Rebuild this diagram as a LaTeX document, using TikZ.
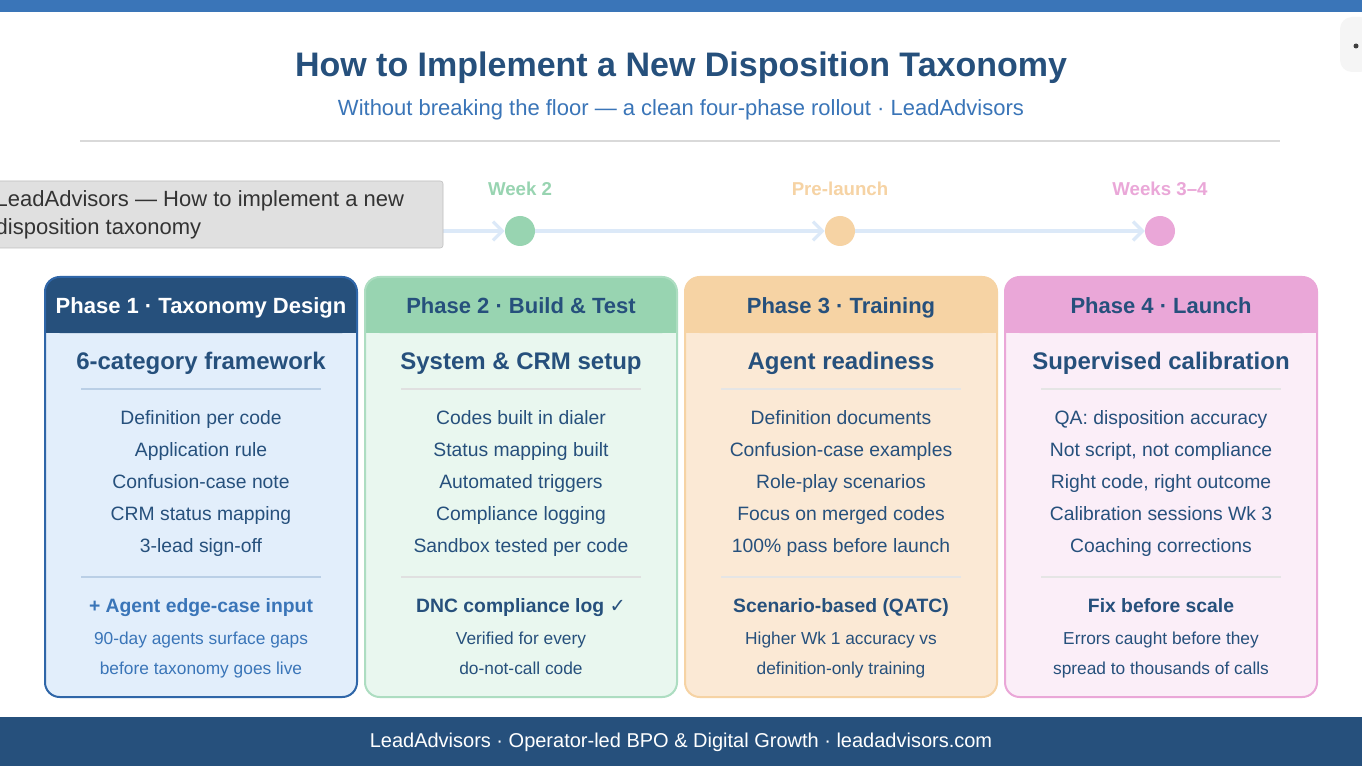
\documentclass[tikz,border=0pt]{standalone}
\usepackage{fontspec}
\setmainfont{Liberation Sans}
\newfontfamily\symfont{DejaVu Sans}
\usetikzlibrary{positioning, calc, arrows.meta}
\definecolor{navy}{HTML}{26507C}
\definecolor{midblue}{HTML}{3A75B8}
\definecolor{pblue}{HTML}{E2EEFB}
\definecolor{bblue}{HTML}{2F66A8}
\definecolor{hgreen}{HTML}{98D4B1}
\definecolor{pgreen}{HTML}{E9F7EF}
\definecolor{horange}{HTML}{F6D3A4}
\definecolor{porange}{HTML}{FBE9D5}
\definecolor{hpink}{HTML}{EAA7D8}
\definecolor{ppink}{HTML}{FBEEF8}
\definecolor{track}{HTML}{DCE9F8}
\tikzset{
  cardtext/.style={anchor=base, font=\fontsize{14.5}{17}\selectfont, text=navy},
  cardsub/.style={anchor=base, font=\fontsize{18}{21}\selectfont\bfseries, text=navy},
  cardhead/.style={anchor=base, font=\fontsize{16.5}{19}\selectfont\bfseries},
  notehead/.style={anchor=base, font=\fontsize{14.5}{17}\selectfont\bfseries, text=navy},
  smalltext/.style={anchor=base, font=\fontsize{13}{15}\selectfont, text=navy},
  weeklabel/.style={anchor=base, font=\fontsize{14}{16}\selectfont\bfseries},
  dot/.style={circle, minimum size=22.5pt, inner sep=0pt},
  divider/.style={line width=0.9pt},
}
% one phase card: x, header colour, body colour, border, rule colour
\newcommand\phasecard[5]{
  \fill[#3, rounded corners=11pt] (#1,277) rectangle ++(312,420);
  \fill[#2, rounded corners=11pt] (#1,277) rectangle ++(312,56);
  \fill[#2] (#1,300) rectangle ++(312,33);
  \draw[#4, line width=1.5pt, rounded corners=11pt] (#1,277) rectangle ++(312,420);
  \draw[#5, divider] (#1+36,389) -- ++(240,0);
  \draw[#5, divider] (#1+36,577) -- ++(240,0);
}
\begin{document}
\begin{tikzpicture}[x=0.75pt, y=-0.75pt]
\useasboundingbox (0,0) rectangle (1362,766);
\fill[white] (0,0) rectangle (1362,766);
\fill[midblue] (0,0) rectangle (1362,12);
\fill[black!4, rounded corners=9pt] (1340,17) rectangle (1372,72);
\fill[black!75] (1356,46) circle (2.5);

% Title
\node[anchor=base, font=\fontsize{25.5}{30}\selectfont\bfseries, text=navy] (title) at (681,77) {How to Implement a New Disposition Taxonomy};
\node[anchor=base, font=\fontsize{16.5}{20}\selectfont, text=midblue] (subtitle) at (681,116) {Without breaking the floor — a clean four-phase rollout · LeadAdvisors};
\draw[black!15, line width=0.9pt] (80,141) -- (1280,141);

% Timeline
\node[dot, fill=midblue!60] (w1) at (200,231) {};
\node[dot, fill=hgreen] (w2) at (520,231) {};
\node[dot, fill=horange] (pl) at (840,231) {};
\node[dot, fill=hpink] (w3) at (1160,231) {};
\foreach \a/\b in {w1/w2, w2/pl, pl/w3}
  \draw[track, line width=3.5pt, -{Straight Barb[length=7pt, width=14pt, line width=2.5pt]}] (\a) -- (\b);
\node[weeklabel, text=hgreen] (w2l) at (520,196) {Week 2};
\node[weeklabel, text=horange] (pll) at (840,196) {Pre-launch};
\node[weeklabel, text=hpink] (w3l) at (1160,196) {Weeks 3–4};

% Tooltip
\fill[black!12, rounded corners=2pt] (-5,181) rectangle (443,248);
\draw[black!25, rounded corners=2pt] (-5,181) rectangle (443,248);
\node[anchor=base west, font=\fontsize{16.5}{21}\selectfont, text=black!80] (tip1) at (-9,207) {LeadAdvisors — How to implement a new};
\node[anchor=base west, font=\fontsize{16.5}{21}\selectfont, text=black!80] (tip2) at (-9,235) {disposition taxonomy};

% Cards
\phasecard{45}{navy}{pblue}{bblue}{midblue!35}
\phasecard{365}{hgreen}{pgreen}{hgreen!80}{black!12}
\phasecard{685}{horange}{porange}{horange}{black!10}
\phasecard{1005}{hpink}{ppink}{hpink}{black!10}

\node[cardhead, text=white] (h1) at (201,314) {Phase 1 · Taxonomy Design};
\node[cardhead, text=navy] (h2) at (521,314) {Phase 2 · Build \& Test};
\node[cardhead, text=navy] (h3) at (841,314) {Phase 3 · Training};
\node[cardhead, text=navy] (h4) at (1161,314) {Phase 4 · Launch};

\node[cardsub] (s1) at (201,369) {6-category framework};
\node[cardsub] (s2) at (521,369) {System \& CRM setup};
\node[cardsub] (s3) at (841,369) {Agent readiness};
\node[cardsub] (s4) at (1161,369) {Supervised calibration};

\foreach \t [count=\i from 0] in {Definition per code, Application rule, Confusion-case note, CRM status mapping, 3-lead sign-off}
  \node[cardtext] (a\i) at (201,424+32*\i) {\t};
\foreach \t [count=\i from 0] in {Codes built in dialer, Status mapping built, Automated triggers, Compliance logging, Sandbox tested per code}
  \node[cardtext] (b\i) at (521,424+32*\i) {\t};
\foreach \t [count=\i from 0] in {Definition documents, Confusion-case examples, Role-play scenarios, Focus on merged codes, 100\% pass before launch}
  \node[cardtext] (c\i) at (841,424+32*\i) {\t};
\foreach \t [count=\i from 0] in {QA: disposition accuracy, {Not script, not compliance}, {Right code, right outcome}, Calibration sessions Wk 3, Coaching corrections}
  \node[cardtext] (d\i) at (1161,424+32*\i) {\t};

\node[notehead, text=midblue] (n1) at (201,612) {+ Agent edge-case input};
\node[notehead] (n2) at (521,612) {DNC compliance log {\symfont ✓}};
\node[notehead] (n3) at (841,612) {Scenario-based (QATC)};
\node[notehead] (n4) at (1161,612) {Fix before scale};

\node[smalltext, text=midblue] (m1a) at (201,644) {90-day agents surface gaps};
\node[smalltext, text=midblue] (m1b) at (201,674) {before taxonomy goes live};
\node[smalltext] (m2a) at (521,644) {Verified for every};
\node[smalltext] (m2b) at (521,674) {do-not-call code};
\node[smalltext] (m3a) at (841,644) {Higher Wk 1 accuracy vs};
\node[smalltext] (m3b) at (841,674) {definition-only training};
\node[smalltext] (m4a) at (1161,644) {Errors caught before they};
\node[smalltext] (m4b) at (1161,674) {spread to thousands of calls};

% Footer
\fill[navy] (0,717) rectangle (1362,766);
\node[anchor=base, font=\fontsize{15}{18}\selectfont, text=white] (foot) at (681,747) {LeadAdvisors · Operator-led BPO \& Digital Growth · leadadvisors.com};
\end{tikzpicture}
\end{document}
